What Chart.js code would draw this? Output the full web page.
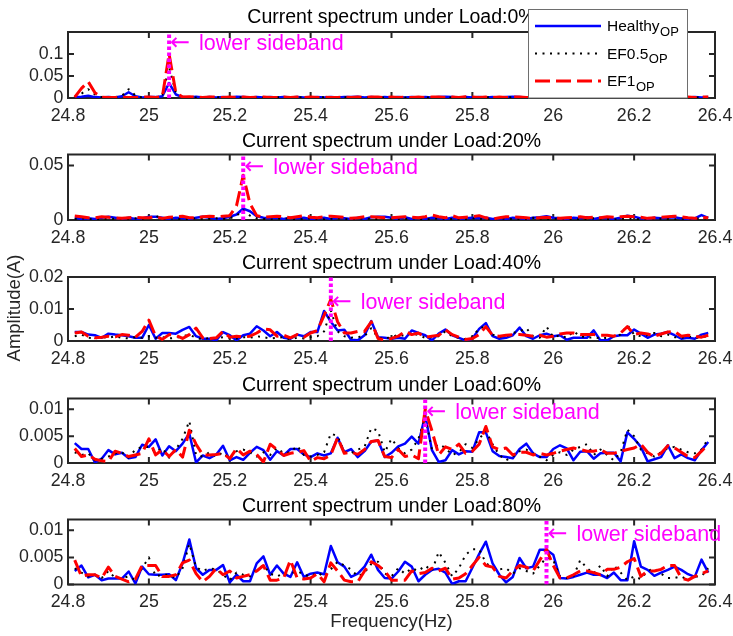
<!DOCTYPE html>
<html>
<head>
<meta charset="utf-8">
<script src="https://cdn.jsdelivr.net/npm/chart.js@4.4.0/dist/chart.umd.min.js"></script>
<style>
  html, body { margin: 0; padding: 0; background: #fff; }
  #wrap { position: relative; width: 733px; height: 636px; }
  #wrap canvas { position: absolute; left: 0; top: 0; }
</style>
</head>
<body>
<div id="wrap"></div>
<script>
// FFT bins, 1/60 Hz resolution, 24.8167 .. 26.3833 Hz
const freqBins = Array.from({length: 95}, (_, i) => (1489 + i) / 60);
const xTicks = [24.8, 25, 25.2, 25.4, 25.6, 25.8, 26, 26.2, 26.4];
const loadLabels = ['0%', '20%', '40%', '60%', '80%'];
const yMax = [0.15, 0.06, 0.02, 0.012, 0.012];
const yTicks = [[0, 0.05, 0.1], [0, 0.05], [0, 0.01, 0.02], [0, 0.005, 0.01], [0, 0.005, 0.01]];
const sidebandFreq = [25.05, 25.2333, 25.45, 25.6833, 25.9833];
const sidebandTextY = [0.126, 0.0486, 0.0123, 0.0095, 0.0094];

// Load 0%
const healthy0 = [0.002,0.003,0.005,0.002,0.001,0.002,0.001,0.004,0.013,0.004,
  0.001,0.002,0.002,0.004,0.034,0.008,0.002,0.001,0.003,0.001,
  0.002,0.001,0.002,0.001,0.003,0.002,0.001,0.002,0.001,0.002,
  0.001,0.002,0.001,0.002,0.001,0.001,0.002,0.001,0.002,0.001,
  0.002,0.002,0.003,0.001,0.002,0.001,0.002,0.001,0.002,0.001,
  0.002,0.001,0.002,0.001,0.002,0.003,0.002,0.001,0.002,0.001,
  0.002,0.001,0.002,0.001,0.002,0.003,0.002,0.001,0.002,0.001,
  0.002,0.001,0.002,0.001,0.002,0.001,0.002,0.001,0.002,0.001,
  0.002,0.001,0.002,0.001,0.002,0.001,0.002,0.001,0.002,0.001,
  0.002,0.001,0.002,0.001,0.002];
const ef05_0 = [0.003,0.01,0.02,0.008,0.002,0.001,0.002,0.005,0.02,0.006,
  0.001,0.001,0.002,0.008,0.07,0.012,0.003,0.002,0.001,0.002,
  0.001,0.002,0.001,0.001,0.002,0.001,0.001,0.002,0.001,0.001,
  0.002,0.001,0.001,0.002,0.001,0.001,0.001,0.002,0.001,0.001,
  0.002,0.001,0.001,0.001,0.002,0.001,0.001,0.002,0.001,0.001,
  0.001,0.002,0.001,0.001,0.002,0.001,0.001,0.001,0.002,0.001,
  0.001,0.002,0.001,0.001,0.001,0.002,0.001,0.001,0.002,0.001,
  0.001,0.001,0.002,0.001,0.001,0.002,0.001,0.001,0.001,0.002,
  0.001,0.001,0.002,0.001,0.001,0.001,0.002,0.001,0.001,0.002,
  0.001,0.001,0.001,0.002,0.001];
const ef1_0 = [0.002,0.022,0.037,0.012,0.002,0.001,0.001,0.002,0.001,0.001,
  0.002,0.002,0.001,0.003,0.1,0.012,0.002,0.003,0.002,0.001,
  0.002,0.002,0.001,0.002,0.001,0.002,0.001,0.002,0.002,0.001,
  0.001,0.002,0.001,0.002,0.001,0.002,0.001,0.002,0.001,0.001,
  0.002,0.001,0.002,0.001,0.002,0.002,0.001,0.002,0.001,0.002,
  0.001,0.002,0.001,0.002,0.002,0.001,0.002,0.001,0.003,0.002,
  0.001,0.002,0.001,0.002,0.001,0.002,0.002,0.001,0.002,0.001,
  0.002,0.001,0.002,0.001,0.002,0.001,0.002,0.002,0.001,0.002,
  0.001,0.002,0.001,0.002,0.001,0.002,0.001,0.002,0.001,0.002,
  0.001,0.002,0.001,0.002,0.002];

// Load 20%
const healthy20 = [0.002,0.001,0.0015,0.001,0.002,0.003,0.002,0.001,0.002,0.001,
  0.0015,0.003,0.003,0.002,0.001,0.002,0.0015,0.001,0.002,0.003,
  0.002,0.001,0.0015,0.003,0.005,0.0105,0.008,0.0035,0.002,0.0015,
  0.002,0.001,0.002,0.0015,0.002,0.001,0.0015,0.002,0.001,0.002,
  0.0015,0.001,0.002,0.001,0.0025,0.003,0.003,0.002,0.001,0.0025,
  0.001,0.002,0.001,0.002,0.0015,0.001,0.002,0.001,0.0015,0.002,
  0.0015,0.002,0.001,0.0015,0.001,0.002,0.0015,0.001,0.002,0.0025,
  0.0035,0.002,0.0015,0.001,0.002,0.0015,0.0025,0.001,0.002,0.0015,
  0.001,0.002,0.004,0.003,0.0015,0.001,0.002,0.0015,0.002,0.0025,
  0.0015,0.001,0.0015,0.0045,0.002];
const ef05_20 = [0.001,0.0015,0.001,0.0005,0.001,0.0015,0.001,0.0005,0.001,0.0015,
  0.001,0.002,0.004,0.001,0.0015,0.001,0.0005,0.001,0.0015,0.001,
  0.001,0.0015,0.001,0.0015,0.004,0.009,0.004,0.0015,0.001,0.0005,
  0.001,0.0015,0.001,0.0005,0.001,0.0015,0.001,0.0005,0.001,0.0015,
  0.001,0.0005,0.001,0.0015,0.001,0.001,0.0015,0.001,0.0005,0.001,
  0.0015,0.001,0.0005,0.001,0.0015,0.001,0.001,0.0005,0.001,0.0015,
  0.001,0.0005,0.001,0.0015,0.001,0.001,0.0005,0.001,0.002,0.001,
  0.0005,0.001,0.0015,0.001,0.001,0.0005,0.001,0.0015,0.001,0.001,
  0.0005,0.001,0.0015,0.001,0.0005,0.001,0.0015,0.001,0.001,0.0005,
  0.001,0.0015,0.001,0.0015,0.001];
const ef1_20 = [0.0037,0.003,0.002,0.002,0.003,0.0025,0.002,0.0015,0.002,0.0025,
  0.002,0.002,0.003,0.0015,0.0025,0.003,0.0035,0.002,0.002,0.003,
  0.0035,0.003,0.0035,0.004,0.013,0.041,0.015,0.004,0.0025,0.003,
  0.0035,0.003,0.002,0.003,0.004,0.0025,0.002,0.003,0.0035,0.003,
  0.0025,0.0015,0.002,0.003,0.003,0.0025,0.002,0.002,0.0025,0.003,
  0.0025,0.002,0.003,0.0045,0.003,0.002,0.004,0.002,0.0025,0.003,
  0.004,0.002,0.001,0.002,0.003,0.003,0.0025,0.002,0.0015,0.002,
  0.0025,0.002,0.0015,0.002,0.0025,0.003,0.002,0.0025,0.002,0.003,
  0.0025,0.003,0.0035,0.003,0.0025,0.0015,0.002,0.0025,0.003,0.0035,
  0.003,0.002,0.0015,0.0025,0.002];

// Load 40%
const healthy40 = [0.0028,0.0028,0.002,0.0018,0.001,0.0023,0.002,0.0018,0.0015,0.001,
  0.001,0.005,0.0007,0.0025,0.0025,0.0023,0.0035,0.0044,0.0015,0.0007,
  0.0007,0.0002,0.0028,0.0018,0.0002,0.0018,0.0023,0.0046,0.0033,0.0015,
  0.0028,0.001,0.0007,0.002,0.0015,0.0028,0.0028,0.0094,0.006,0.0033,
  0.0035,0.0004,0.0002,0.0018,0.0062,0.0012,0.001,0.0007,0.001,0.0007,
  0.0033,0.0025,0.0018,0.0002,0.0023,0.0036,0.0018,0.001,0.0002,0.0007,
  0.0038,0.0056,0.0015,0.0007,0.001,0.0018,0.0042,0.0015,0.0007,0.0018,
  0.0023,0.0015,0.0018,0.0004,0.001,0.001,0.001,0.0033,0.0002,0.0002,
  0.0015,0.0018,0.0018,0.0036,0.0023,0.001,0.002,0.0023,0.0028,0.0018,
  0.0007,0.001,0.0007,0.002,0.0025];
const ef05_40 = [0.0015,0.002,0.001,0.0008,0.0012,0.001,0.0015,0.001,0.0008,0.0012,
  0.001,0.0015,0.001,0.0012,0.0008,0.001,0.0015,0.002,0.001,0.0005,
  0.001,0.0008,0.0012,0.001,0.0008,0.0012,0.001,0.0015,0.0012,0.0008,
  0.001,0.0012,0.0005,0.001,0.0008,0.0012,0.0015,0.003,0.0095,0.003,
  0.0015,0.001,0.0012,0.0015,0.004,0.001,0.0008,0.0012,0.002,0.0015,
  0.0025,0.0018,0.001,0.0012,0.0015,0.003,0.0015,0.001,0.0005,0.0012,
  0.004,0.0045,0.002,0.0012,0.0015,0.0025,0.003,0.004,0.0015,0.001,
  0.0045,0.0012,0.0018,0.001,0.003,0.0015,0.001,0.0012,0.0008,0.001,
  0.0015,0.002,0.005,0.002,0.0015,0.0018,0.0025,0.0015,0.002,0.0012,
  0.001,0.0015,0.001,0.0012,0.0015];
const ef1_40 = [0.0025,0.0028,0.0015,0.001,0.0012,0.0015,0.0013,0.002,0.0018,0.0012,
  0.003,0.0065,0.0015,0.0005,0.002,0.0018,0.0008,0.002,0.004,0.001,
  0.0008,0.001,0.003,0.0012,0.0015,0.0012,0.0015,0.0025,0.0038,0.0035,
  0.0015,0.0018,0.001,0.002,0.0012,0.0025,0.0033,0.008,0.013,0.006,
  0.0025,0.0025,0.003,0.003,0.006,0.0008,0.0003,0.0008,0.0015,0.003,
  0.002,0.0025,0.0012,0.0015,0.0018,0.0035,0.002,0.0012,0.0005,0.0008,
  0.002,0.0045,0.0018,0.0015,0.0018,0.002,0.002,0.0018,0.0015,0.0018,
  0.0012,0.0015,0.0022,0.0025,0.0025,0.002,0.002,0.002,0.0018,0.0018,
  0.0015,0.0025,0.0045,0.002,0.0025,0.0022,0.0015,0.0022,0.0028,0.003,
  0.0015,0.0018,0.0015,0.0012,0.0018];

// Load 60%
const healthy60 = [0.0037,0.0026,0.0026,0.0001,0.0008,0.0024,0.0016,0.0019,0.0009,0.0011,
  0.0034,0.003,0.0044,0.0014,0.0031,0.0022,0.0036,0.0055,0.0001,0.0014,
  0.0009,0.0016,0.0032,0.0005,0.0011,0.0006,0.0019,0.003,0.0024,0.0006,
  0.0022,0.0014,0.0026,0.0026,0.0016,0.0011,0.0018,0.0014,0.0018,0.0047,
  0.002,0.0026,0.0011,0.0022,0.004,0.0042,0.0011,0.0019,0.0031,0.0036,
  0.0049,0.0036,0.0089,0.0024,0.0002,0.0005,0.0024,0.0016,0.0022,0.0021,
  0.0057,0.0057,0.0022,0.0013,0.0011,0.0009,0.0026,0.0036,0.0018,0.0011,
  0.0011,0.0026,0.0033,0.0027,0.0005,0.0021,0.0022,0.0008,0.0018,0.0019,
  0.0019,0.0003,0.0057,0.0045,0.003,0.0003,0.0007,0.0011,0.0033,0.0009,
  0.0016,0.0009,0.0005,0.0024,0.0039];
const ef05_60 = [0.002,0.0015,0.0018,0.0005,0.0008,0.0012,0.0018,0.002,0.001,0.0025,
  0.003,0.003,0.002,0.0028,0.001,0.0025,0.0045,0.0078,0.0015,0.0012,
  0.002,0.0012,0.002,0.0008,0.0022,0.0025,0.002,0.0012,0.002,0.0015,
  0.0028,0.0018,0.002,0.0032,0.0015,0.0012,0.0015,0.002,0.0055,0.005,
  0.002,0.0018,0.0025,0.003,0.0065,0.006,0.002,0.0045,0.0028,0.0018,
  0.0025,0.0045,0.0085,0.0025,0.0035,0.0028,0.0015,0.002,0.0035,0.0028,
  0.0045,0.006,0.0035,0.0015,0.0005,0.0012,0.0022,0.0025,0.0018,0.0012,
  0.0005,0.0015,0.002,0.0015,0.0025,0.003,0.0035,0.0015,0.0025,0.0015,
  0.0005,0.002,0.0062,0.005,0.0025,0.0018,0.0012,0.002,0.0028,0.003,
  0.0025,0.002,0.0018,0.0025,0.0045];
const ef1_60 = [0.0027,0.0012,0.0015,0.0007,0.0004,0.0003,0.0022,0.0018,0.0012,0.0015,
  0.0018,0.0045,0.0015,0.0025,0.0012,0.0025,0.0011,0.0061,0.0035,0.0015,
  0.0015,0.0016,0.0018,0.0008,0.0027,0.0015,0.0022,0.0016,0.0002,0.0035,
  0.0025,0.0014,0.0018,0.002,0.0023,0.0003,0.001,0.0008,0.0015,0.0047,
  0.0018,0.002,0.0016,0.0025,0.004,0.0042,0.0012,0.001,0.0025,0.0012,
  0.0015,0.0008,0.01,0.006,0.0015,0.003,0.0025,0.0035,0.0018,0.0022,
  0.0035,0.0068,0.003,0.0025,0.0028,0.0015,0.002,0.002,0.0015,0.0018,
  0.0015,0.0018,0.0022,0.0025,0.0028,0.0025,0.0022,0.0022,0.0025,0.0018,
  0.0018,0.0022,0.0025,0.0028,0.0035,0.002,0.0012,0.0018,0.0032,0.0028,
  0.002,0.0012,0.001,0.0022,0.0035];

// Load 80%
const healthy80 = [0.0025,0.0035,0.0013,0.0018,0.0008,0.0011,0.0011,0.0011,0.0024,0.0002,
  0.0033,0.0019,0.0018,0.0018,0.0019,0.0008,0.0039,0.0083,0.003,0.0018,
  0.0027,0.0027,0.0036,0.0004,0.0018,0.0006,0.0006,0.0039,0.0052,0.0018,
  0.0035,0.002,0.0014,0.0041,0.0014,0.002,0.0022,0.0019,0.0071,0.0041,
  0.0033,0.0014,0.002,0.0033,0.0055,0.0027,0.0012,0.0011,0.0024,0.0042,
  0.0033,0.0006,0.0018,0.0027,0.0029,0.0022,0.0001,0.0006,0.0006,0.0031,
  0.0056,0.0079,0.0039,0.0018,0.0004,0.0014,0.0049,0.003,0.0033,0.0064,
  0.0064,0.0055,0.0012,0.0011,0.0014,0.0018,0.0022,0.0018,0.0018,0.0012,
  0.0022,0.0008,0.0008,0.008,0.0033,0.0027,0.0016,0.0022,0.0027,0.0033,
  0.0027,0.0019,0.0014,0.0046,0.0022];
const ef05_80 = [0.003,0.0022,0.0015,0.0018,0.0012,0.0025,0.0012,0.0012,0.0015,0.0008,
  0.003,0.005,0.0015,0.0018,0.0018,0.0012,0.003,0.0075,0.0032,0.0025,
  0.003,0.0028,0.0018,0.0008,0.0022,0.0018,0.0015,0.0028,0.0035,0.002,
  0.0015,0.002,0.002,0.0025,0.0018,0.0015,0.0022,0.0015,0.0028,0.0042,
  0.0035,0.0028,0.0015,0.0022,0.0038,0.0042,0.002,0.0015,0.003,0.002,
  0.003,0.0025,0.0035,0.0025,0.006,0.004,0.0015,0.003,0.0055,0.0065,
  0.0065,0.004,0.003,0.0028,0.003,0.002,0.003,0.0025,0.002,0.0035,
  0.005,0.0045,0.0015,0.0012,0.0015,0.0045,0.003,0.002,0.0035,0.0015,
  0.0035,0.0022,0.0008,0.0015,0.001,0.0025,0.003,0.002,0.0012,0.0012,
  0.0015,0.0008,0.0015,0.0015,0.003];
const ef1_80 = [0.0045,0.0015,0.0018,0.0018,0.0012,0.0032,0.0015,0.001,0.0005,0.001,
  0.0035,0.0035,0.0035,0.0015,0.0015,0.0018,0.004,0.0045,0.002,0.0005,
  0.0015,0.003,0.0018,0.0025,0.0012,0.0015,0.0018,0.0025,0.0035,0.0008,
  0.0008,0.0012,0.0045,0.0012,0.001,0.0012,0.002,0.0005,0.004,0.0025,
  0.0008,0.0005,0.0005,0.0025,0.0042,0.0035,0.0025,0.0008,0.0008,0.0008,
  0.0025,0.002,0.0022,0.003,0.0025,0.003,0.001,0.0012,0.002,0.0035,
  0.005,0.0035,0.0032,0.0015,0.0012,0.0025,0.0035,0.0032,0.0025,0.0045,
  0.0065,0.0035,0.0012,0.0012,0.0018,0.0025,0.0025,0.0022,0.0018,0.0028,
  0.0028,0.0032,0.0042,0.0048,0.0015,0.0025,0.0025,0.0028,0.0035,0.0035,
  0.0012,0.0008,0.0015,0.002,0.0025];

const healthy = [healthy0, healthy20, healthy40, healthy60, healthy80];
const ef05 = [ef05_0, ef05_20, ef05_40, ef05_60, ef05_80];
const ef1 = [ef1_0, ef1_20, ef1_40, ef1_60, ef1_80];

// page layout
const W = 733, H = 636;
const PLOT_LEFT = 68, PLOT_RIGHT = 715;
const plotTop = [32, 154.5, 277, 398.5, 519.5];
const plotBottom = [98, 220, 341, 463, 584.5];
const titleBase = [23, 147, 268.5, 391, 512];
const FONT = '"Liberation Sans", Arial, Helvetica, sans-serif';
const AXIS_COLOR = '#262626';

const toXY = vals => freqBins.map((f, i) => ({x: f, y: vals[i]}));

const legendItems = [
  {name: 'Healthy', color: '#0000ff', width: 2.5, dash: []},
  {name: 'EF0.5', color: '#000000', width: 2, dash: [2, 5.5]},
  {name: 'EF1', color: '#ff0000', width: 3, dash: [15, 6]}
];

const deco = {
  id: 'deco',
  beforeDatasetsDraw(chart, args, opts) {
    const ctx = chart.ctx, a = chart.chartArea;
    const xs = chart.scales.x, ys = chart.scales.y;
    const tl = 6;
    ctx.save();
    ctx.strokeStyle = AXIS_COLOR;
    ctx.lineWidth = 2;
    ctx.strokeRect(a.left, a.top, a.right - a.left, a.bottom - a.top);
    ctx.beginPath();
    xTicks.forEach(v => {
      const px = xs.getPixelForValue(v);
      ctx.moveTo(px, a.bottom); ctx.lineTo(px, a.bottom - tl);
      ctx.moveTo(px, a.top); ctx.lineTo(px, a.top + tl);
    });
    yTicks[opts.panel].forEach(v => {
      const py = ys.getPixelForValue(v);
      ctx.moveTo(a.left, py); ctx.lineTo(a.left + tl, py);
      ctx.moveTo(a.right, py); ctx.lineTo(a.right - tl, py);
    });
    ctx.stroke();
    ctx.restore();
  },
  afterDraw(chart, args, opts) {
    const p = opts.panel;
    const ctx = chart.ctx, a = chart.chartArea;
    const xs = chart.scales.x, ys = chart.scales.y;
    ctx.save();
    // subplot title
    ctx.fillStyle = '#000';
    ctx.font = '19.5px ' + FONT;
    ctx.textAlign = 'center';
    ctx.textBaseline = 'alphabetic';
    ctx.fillText('Current spectrum under Load:' + loadLabels[p], (a.left + a.right) / 2, titleBase[p]);

    // sideband annotation
    const sx = xs.getPixelForValue(sidebandFreq[p]);
    const sy = ys.getPixelForValue(sidebandTextY[p]);
    ctx.fillStyle = '#ff00ff';
    ctx.textAlign = 'left';
    ctx.textBaseline = 'middle';
    ctx.font = '24px "DejaVu Sans", sans-serif';
    ctx.fillText('\u2190', sx + 1, sy + 1);
    ctx.textBaseline = 'alphabetic';
    ctx.font = '21.5px ' + FONT;
    ctx.fillText('lower sideband', sx + 30, sy + 7.5);

    ctx.fillStyle = AXIS_COLOR;
    ctx.font = '18.5px ' + FONT;
    ctx.textAlign = 'center';
    ctx.textBaseline = 'middle';
    if (p === 2) {
      ctx.save();
      ctx.translate(15, 308);
      ctx.rotate(-Math.PI / 2);
      ctx.fillText('Amplitude(A)', 0, 0);
      ctx.restore();
    }
    if (p === 4) {
      ctx.fillText('Frequency(Hz)', (a.left + a.right) / 2, 622);
    }

    if (p === 0) {
      // legend
      ctx.fillStyle = '#fff';
      ctx.fillRect(528.5, 9.5, 159, 88.5);
      ctx.strokeStyle = '#6e6e6e';
      ctx.lineWidth = 1;
      ctx.strokeRect(528.5, 9.5, 159, 88.5);
      const rows = [26, 53.5, 81];
      legendItems.forEach((it, k) => {
        const y = rows[k];
        ctx.beginPath();
        ctx.strokeStyle = it.color;
        ctx.lineWidth = it.width;
        ctx.setLineDash(it.dash);
        ctx.moveTo(535, y); ctx.lineTo(601, y);
        ctx.stroke();
        ctx.setLineDash([]);
        ctx.fillStyle = '#000';
        ctx.textAlign = 'left';
        ctx.textBaseline = 'alphabetic';
        ctx.font = '15.5px ' + FONT;
        ctx.fillText(it.name, 607, y + 5);
        const w = ctx.measureText(it.name).width;
        ctx.font = '13px ' + FONT;
        ctx.fillText('OP', 607 + w + 0.5, y + 9.5);
      });
    }
    ctx.restore();
  }
};

const wrap = document.getElementById('wrap');
for (let p = 0; p < 5; p++) {
  const cv = document.createElement('canvas');
  cv.width = W; cv.height = H;
  cv.style.width = W + 'px'; cv.style.height = H + 'px';
  wrap.appendChild(cv);
  const sb = sidebandFreq[p];
  new Chart(cv, {
    type: 'line',
    data: {
      datasets: [
        {label: 'lower sideband', data: [{x: sb, y: 0}, {x: sb, y: yMax[p]}],
          borderColor: '#ff00ff', borderWidth: 4, borderDash: [3.5, 2.5], order: 0},
        {label: 'EF1_OP', data: toXY(ef1[p]), borderColor: '#ff0000', borderWidth: 3,
          borderDash: [15, 6], order: 1},
        {label: 'EF0.5_OP', data: toXY(ef05[p]), borderColor: '#000000', borderWidth: 2,
          borderDash: [2, 5.5], order: 2},
        {label: 'Healthy_OP', data: toXY(healthy[p]), borderColor: '#0000ff', borderWidth: 2.5,
          order: 3}
      ]
    },
    options: {
      responsive: false,
      animation: false,
      devicePixelRatio: 1,
      layout: {padding: {left: 0, top: plotTop[p], right: W - PLOT_RIGHT, bottom: 0}},
      elements: {
        point: {radius: 0, hoverRadius: 0},
        line: {tension: 0, borderJoinStyle: 'round', fill: false}
      },
      plugins: {legend: {display: false}, tooltip: {enabled: false}, deco: {panel: p}},
      events: [],
      scales: {
        x: {
          type: 'linear', min: 24.8, max: 26.4,
          afterBuildTicks: s => { s.ticks = xTicks.map(v => ({value: v})); },
          afterFit: s => { s.height = H - plotBottom[p]; s.paddingLeft = 0; s.paddingRight = 0; },
          grid: {display: false, drawTicks: false},
          border: {display: false},
          ticks: {
            autoSkip: false, maxRotation: 0, padding: 7, color: AXIS_COLOR,
            font: {family: FONT, size: 17.8},
            callback: v => String(v)
          }
        },
        y: {
          type: 'linear', min: 0, max: yMax[p],
          afterBuildTicks: s => { s.ticks = yTicks[p].map(v => ({value: v})); },
          afterFit: s => { s.width = PLOT_LEFT; s.paddingTop = 0; s.paddingBottom = 0; },
          grid: {display: false, drawTicks: false},
          border: {display: false},
          ticks: {
            autoSkip: false, padding: 4.5, color: AXIS_COLOR,
            font: {family: FONT, size: 17.8},
            callback: v => String(v)
          }
        }
      }
    },
    plugins: [deco]
  });
}
</script>
</body>
</html>
